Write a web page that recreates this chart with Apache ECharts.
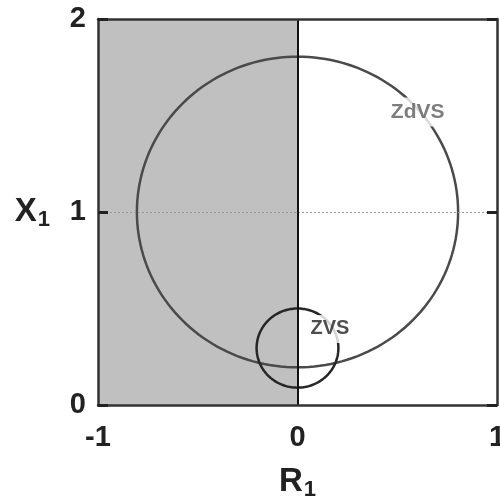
<!DOCTYPE html>
<html>
<head>
<meta charset="utf-8">
<script src="https://cdn.jsdelivr.net/npm/echarts@6/dist/echarts.min.js"></script>
<style>
  html, body { margin: 0; padding: 0; background: #fff; }
  #chart { width: 500px; height: 501px; }
</style>
</head>
<body>
<div id="chart"></div>
<script>
// Impedance plane: resistance R1 (x) vs reactance X1 (y)
const xTicks = [-1, 0, 1];
const yTicks = [0, 1, 2];

// Boundary circles: [centre R1, centre X1, radius]
const circleNames = ['ZdVS', 'ZVS'];
const circleCentreR = [0, 0];
const circleCentreX = [1, 0.295];
const circleRadius = [0.805, 0.205];

// Label anchors for each circle, in data units
const labelR = [0.6025, 0.1625];
const labelX = [1.518, 0.394];

// Negative-resistance half-plane
const shadedFrom = -1;
const shadedTo = 0;

const FONT = '"Liberation Sans", Arial, sans-serif';
const circleColors = ['#4a4a4a', '#262626'];
const labelColors = ['#5c5c5c', '#222222'];
const labelSizes = [21, 20];

const chart = echarts.init(document.getElementById('chart'), null, { renderer: 'canvas' });

const circleData = circleNames.map((n, i) => ({
  name: n,
  value: [circleCentreR[i], circleCentreX[i], circleRadius[i]]
}));

const labelData = circleNames.map((n, i) => ({
  name: n,
  value: [labelR[i], labelX[i]],
  label: { color: labelColors[i], fontSize: labelSizes[i] }
}));

const axisLineStyle = { color: '#333', width: 2.5 };
const titleRich = {
  a: { fontSize: 33, fontWeight: 'bold', color: '#222', fontFamily: FONT },
  b: { fontSize: 22, fontWeight: 'bold', color: '#222', fontFamily: FONT, padding: [16, 0, 0, 1] }
};

chart.setOption({
  animation: false,
  backgroundColor: '#fff',
  grid: { left: 98, right: 3, top: 19, bottom: 96, containLabel: false, outerBoundsMode: 'none' },
  xAxis: [{
    type: 'value', min: xTicks[0], max: xTicks[xTicks.length - 1], interval: 1,
    position: 'bottom', z: 6,
    axisLine: { show: true, onZero: false, lineStyle: axisLineStyle },
    axisTick: { show: false },
    splitLine: { show: false },
    axisLabel: { fontSize: 29, fontWeight: 'bold', color: '#222', fontFamily: FONT, margin: 18 },
    name: '{a|R}{b|1}', nameLocation: 'middle', nameGap: 58,
    nameTextStyle: { rich: titleRich }
  }, {
    type: 'value', min: xTicks[0], max: xTicks[xTicks.length - 1], interval: 1,
    position: 'top', z: 6,
    axisLine: { show: true, onZero: false, lineStyle: axisLineStyle },
    axisTick: { show: false }, axisLabel: { show: false }, splitLine: { show: false }
  }],
  yAxis: [{
    type: 'value', min: yTicks[0], max: yTicks[yTicks.length - 1], interval: 1,
    position: 'left', z: 6,
    axisLine: { show: true, onZero: false, lineStyle: axisLineStyle },
    axisTick: { show: true, inside: true, length: 10, lineStyle: { color: '#222', width: 3 } },
    splitLine: { show: false },
    axisLabel: { fontSize: 29, fontWeight: 'bold', color: '#222', fontFamily: FONT, margin: 12 },
    name: '{a|X}{b|1}', nameLocation: 'middle', nameRotate: 0, nameGap: 48,
    nameTextStyle: { align: 'right', rich: titleRich }
  }, {
    type: 'value', min: yTicks[0], max: yTicks[yTicks.length - 1], interval: 1,
    position: 'right', z: 6,
    axisLine: { show: true, onZero: false, lineStyle: axisLineStyle },
    axisTick: { show: true, inside: true, length: 10, lineStyle: { color: '#222', width: 3 } },
    axisLabel: { show: false }, splitLine: { show: false }
  }],
  series: [
    {
      // shaded half-plane, zero-resistance line and unit-reactance guide
      type: 'line', data: [], xAxisIndex: 0, yAxisIndex: 0, silent: true,
      markArea: {
        silent: true,
        itemStyle: { color: '#c0c0c0' },
        data: [[{ xAxis: shadedFrom }, { xAxis: shadedTo }]]
      },
      markLine: {
        silent: true, symbol: 'none', label: { show: false },
        data: [
          { yAxis: 1, lineStyle: { type: [2, 2], color: '#9a9a9a', width: 1 } },
          { xAxis: 0, lineStyle: { type: 'solid', color: '#111', width: 2 } }
        ]
      },
      z: 1
    },
    {
      type: 'custom', xAxisIndex: 0, yAxisIndex: 0, silent: true, z: 3,
      data: circleData,
      renderItem: function (params, api) {
        const c = api.coord([api.value(0), api.value(1)]);
        const r = api.value(2);
        const rx = api.size([r, 0])[0];
        const ry = api.size([0, r])[1];
        const pts = [];
        const n = 180;
        for (let k = 0; k <= n; k++) {
          const t = k / n * Math.PI * 2;
          pts.push([c[0] + rx * Math.cos(t), c[1] - ry * Math.sin(t)]);
        }
        return {
          type: 'polyline',
          shape: { points: pts },
          style: { stroke: circleColors[params.dataIndex], fill: null, lineWidth: 2.5 }
        };
      }
    },
    {
      type: 'scatter', xAxisIndex: 0, yAxisIndex: 0, silent: true, z: 5,
      symbolSize: 0,
      data: labelData,
      label: {
        show: true, position: 'inside', formatter: '{b}',
        fontWeight: 'bold', fontFamily: FONT,
        backgroundColor: '#fff', padding: [5, 2, 3, 2]
      }
    }
  ]
});
</script>
</body>
</html>
